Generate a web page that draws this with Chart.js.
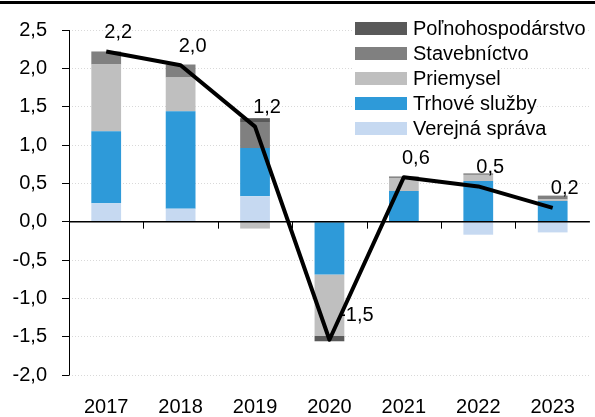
<!DOCTYPE html>
<html>
<head>
<meta charset="utf-8">
<script src="https://cdn.jsdelivr.net/npm/chart.js@4.4.1/dist/chart.umd.min.js"></script>
<style>
  html, body { margin: 0; padding: 0; background: #fff; }
  #wrap { position: relative; width: 595px; height: 417px; overflow: hidden; }
  #topline { position: absolute; left: 0; top: 1px; width: 595px; height: 3px; background: #000; }
  #legend {
    position: absolute; left: 352px; top: 16px;
    font-family: "Liberation Sans", Arial, sans-serif;
    font-size: 20px; color: #000;
  }
  .item { display: flex; align-items: center; height: 25px; width: fit-content; background: #fff; padding-left: 3px; }
  .swatch { width: 52px; height: 13px; margin-right: 6px; }
</style>
</head>
<body>
<div id="wrap">
  <canvas id="Chart" width="595" height="417"></canvas>
  <div id="topline"></div>
  <div id="legend"></div>
</div>
<script>
// data (percentage points)
var years = ["2017", "2018", "2019", "2020", "2021", "2022", "2023"];
var polnohospodarstvo = [0, 0, 0.05, -0.07, 0, 0, 0];
var stavebnictvo = [0.17, 0.17, 0.34, 0, 0.02, 0.02, 0.05];
var priemysel = [0.87, 0.44, -0.09, -0.80, 0.17, 0.08, 0.02];
var trhoveSluzby = [0.94, 1.27, 0.63, -0.69, 0.40, 0.53, 0.27];
var verejnaSprava = [0.24, 0.17, 0.33, 0, 0, -0.17, -0.14];
var spolu = [2.22, 2.04, 1.24, -1.54, 0.58, 0.46, 0.18];

var yMin = -2.0;
var yMax = 2.5;
var yStep = 0.5;

var FONT = '"Liberation Sans", Arial, sans-serif';

function fmt(v) {
  return v.toFixed(1).replace(".", ",");
}

// y axis line, zero axis line with category tick marks, drawn over the bars
var axisLines = {
  id: "axisLines",
  afterDatasetsDraw: function (chart) {
    var ctx = chart.ctx;
    var area = chart.chartArea;
    var x = chart.scales.x;
    var y = chart.scales.y;
    var y0 = y.getPixelForValue(0);
    var step = x.getPixelForTick(1) - x.getPixelForTick(0);
    ctx.save();
    ctx.strokeStyle = "#000";
    ctx.lineWidth = 1;
    ctx.beginPath();
    ctx.moveTo(area.left + 0.5, area.top);
    ctx.lineTo(area.left + 0.5, area.bottom + 0.5);
    ctx.stroke();
    ctx.lineWidth = 1.5;
    ctx.beginPath();
    ctx.moveTo(area.left, y0);
    ctx.lineTo(area.right, y0);
    ctx.stroke();
    ctx.lineWidth = 1;
    ctx.beginPath();
    for (var i = 1; i < years.length; i++) {
      var xb = Math.round(x.getPixelForTick(i) - step / 2) + 0.5;
      ctx.moveTo(xb, y0);
      ctx.lineTo(xb, y0 + 7);
    }
    ctx.stroke();
    ctx.restore();
  },
};

// value labels for the total line
var totalLabels = {
  id: "totalLabels",
  afterDatasetsDraw: function (chart) {
    var ctx = chart.ctx;
    var meta = chart.getDatasetMeta(0);
    ctx.save();
    ctx.font = "20px " + FONT;
    ctx.fillStyle = "#000";
    ctx.textAlign = "center";
    ctx.textBaseline = "middle";
    meta.data.forEach(function (pt, i) {
      var v = spolu[i];
      var dx = v < 0 ? 27 : 12;
      var dy = v < 0 ? -24 : -19;
      ctx.fillText(fmt(v), pt.x + dx, pt.y + dy);
    });
    ctx.restore();
  },
};

var barSeries = [
  { label: "Verejná správa", data: verejnaSprava, color: "#c6d9f1" },
  { label: "Trhové služby", data: trhoveSluzby, color: "#2e9ad9" },
  { label: "Priemysel", data: priemysel, color: "#bfbfbf" },
  { label: "Stavebníctvo", data: stavebnictvo, color: "#808080" },
  { label: "Poľnohospodárstvo", data: polnohospodarstvo, color: "#595959" },
];

function initializeChart() {
  var ctx = document.getElementById("Chart").getContext("2d");
  if (window.myChart) window.myChart.destroy();

  var datasets = [
    {
      type: "line",
      label: "Spolu",
      data: spolu,
      stack: "total",
      order: 0,
      borderColor: "#000",
      borderWidth: 4,
      borderJoinStyle: "round",
      pointRadius: 0,
      tension: 0,
    },
  ];
  barSeries.forEach(function (s) {
    datasets.push({
      type: "bar",
      label: s.label,
      data: s.data,
      stack: "sectors",
      order: 1,
      backgroundColor: s.color,
      borderWidth: 0,
      barPercentage: 0.4,
      categoryPercentage: 1.0,
    });
  });

  Chart.defaults.font.family = FONT;
  Chart.defaults.font.size = 20;
  Chart.defaults.color = "#000";

  window.myChart = new Chart(ctx, {
    data: { labels: years, datasets: datasets },
    plugins: [axisLines, totalLabels],
    options: {
      animation: false,
      responsive: false,
      layout: { padding: { top: 30, right: 1, left: 0, bottom: 0 } },
      scales: {
        x: {
          stacked: true,
          grid: { display: false, drawTicks: false },
          border: { display: false },
          ticks: { padding: 20, color: "#000", maxRotation: 0 },
          afterFit: function (s) { s.height = 42; },
        },
        y: {
          stacked: true,
          min: yMin,
          max: yMax,
          ticks: {
            stepSize: yStep,
            padding: 15,
            color: "#000",
            callback: function (v) { return fmt(v); },
          },
          grid: {
            color: function (c) { return c.tick && c.tick.value === 0 ? "rgba(0,0,0,0)" : "#d9d9d9"; },
            lineWidth: 1,
            tickLength: 7,
            tickColor: "#000",
            tickWidth: 1,
          },
          border: { display: false, dash: [1, 2] },
          afterFit: function (s) { s.width = 69; },
        },
      },
      plugins: {
        legend: { display: false },
        tooltip: { enabled: false },
      },
    },
  });

  // legend in stacking order from top to bottom
  var legend = document.getElementById("legend");
  legend.innerHTML = "";
  barSeries.slice().reverse().forEach(function (s) {
    var row = document.createElement("div");
    row.className = "item";
    var sw = document.createElement("span");
    sw.className = "swatch";
    sw.style.background = s.color;
    var tx = document.createElement("span");
    tx.textContent = s.label;
    row.appendChild(sw);
    row.appendChild(tx);
    legend.appendChild(row);
  });
}

window.onload = function () {
  initializeChart();
};
</script>
</body>
</html>
